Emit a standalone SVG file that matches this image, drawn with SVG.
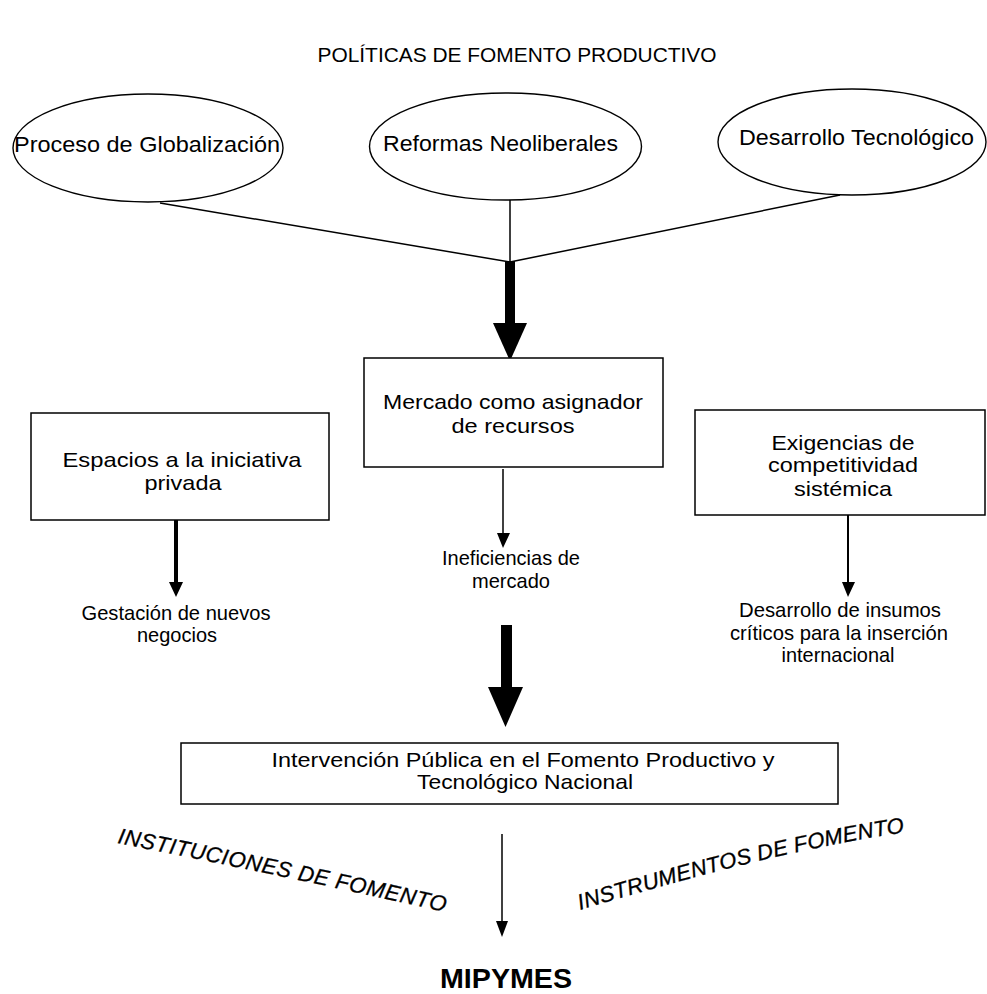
<svg xmlns="http://www.w3.org/2000/svg" xmlns:xlink="http://www.w3.org/1999/xlink" width="987" height="994" viewBox="0 0 987 994">
<style>
  text { font-family: "Liberation Sans", Arial, sans-serif; fill: #000; }
  .t22 { font-size: 22px; }
  .t21 { font-size: 21px; }
  .t20 { font-size: 20px; }
  .curve { font-size: 22px; font-style: italic; stroke: #000; stroke-width: 0.3; }
  .box { fill: #fff; stroke: #000; stroke-width: 1.5; }
  .ell { fill: #fff; stroke: #000; stroke-width: 1.4; }
  .ln { stroke: #000; stroke-width: 1.5; fill: none; }
  .head { fill: #000; stroke: none; }
</style>
<defs>
  <path id="curveL" d="M117,843 Q280,875 445,912"/>
  <path id="curveR" d="M580,910 Q775,851 907,832"/>
</defs>
<rect width="987" height="994" fill="#fff"/>

<g id="title">
  <text class="t20" x="517" y="62" text-anchor="middle" textLength="399" lengthAdjust="spacingAndGlyphs">POLÍTICAS DE FOMENTO PRODUCTIVO</text>
</g>

<g id="connectors">
  <line class="ln" x1="160" y1="203" x2="510" y2="262"/>
  <line class="ln" x1="510" y1="200" x2="510" y2="262"/>
  <line class="ln" x1="840" y1="195" x2="510" y2="262"/>
  <rect x="505" y="261" width="10" height="63" fill="#000"/>
  <polygon class="head" points="493,323 527,323 510,361"/>
  <line class="ln" x1="503" y1="469" x2="503" y2="534"/>
  <polygon class="head" points="497,533 510,533 503,548"/>
  <line x1="176" y1="520" x2="176" y2="583" stroke="#000" stroke-width="4"/>
  <polygon class="head" points="169,582 183,582 176,597"/>
  <line x1="848" y1="515" x2="848" y2="583" stroke="#000" stroke-width="2"/>
  <polygon class="head" points="842,582 855,582 848,597"/>
  <rect x="501" y="625" width="11" height="63" fill="#000"/>
  <polygon class="head" points="488,687 523,687 505.5,727"/>
  <line class="ln" x1="502" y1="834" x2="502" y2="922"/>
  <polygon class="head" points="496,921 508,921 502,937"/>
</g>

<g id="globalizacion">
  <ellipse class="ell" cx="148" cy="148" rx="135" ry="54"/>
  <text class="t22" x="147" y="152" text-anchor="middle" textLength="266" lengthAdjust="spacingAndGlyphs">Proceso de Globalización</text>
</g>
<g id="reformas">
  <ellipse class="ell" cx="505.5" cy="146.5" rx="136" ry="53.5"/>
  <text class="t22" x="500.5" y="151" text-anchor="middle" textLength="235" lengthAdjust="spacingAndGlyphs">Reformas Neoliberales</text>
</g>
<g id="desarrollo-tec">
  <ellipse class="ell" cx="852" cy="142" rx="134" ry="53"/>
  <text class="t22" x="856.5" y="145" text-anchor="middle" textLength="235" lengthAdjust="spacingAndGlyphs">Desarrollo Tecnológico</text>
</g>

<g id="mercado">
  <rect class="box" x="364" y="358" width="299" height="109"/>
  <text class="t21" x="513" y="409" text-anchor="middle" textLength="260" lengthAdjust="spacingAndGlyphs">Mercado como asignador</text>
  <text class="t21" x="513" y="433" text-anchor="middle" textLength="123" lengthAdjust="spacingAndGlyphs">de recursos</text>
</g>
<g id="espacios">
  <rect class="box" x="31" y="413" width="298" height="107"/>
  <text class="t21" x="182" y="467" text-anchor="middle" textLength="239" lengthAdjust="spacingAndGlyphs">Espacios a la iniciativa</text>
  <text class="t21" x="183" y="490" text-anchor="middle" textLength="77" lengthAdjust="spacingAndGlyphs">privada</text>
</g>
<g id="exigencias">
  <rect class="box" x="695" y="410" width="290" height="105"/>
  <text class="t21" x="843" y="450" text-anchor="middle" textLength="143" lengthAdjust="spacingAndGlyphs">Exigencias de</text>
  <text class="t21" x="843" y="472" text-anchor="middle" textLength="150" lengthAdjust="spacingAndGlyphs">competitividad</text>
  <text class="t21" x="843" y="496" text-anchor="middle" textLength="98" lengthAdjust="spacingAndGlyphs">sistémica</text>
</g>

<g id="gestacion">
  <text class="t21" x="176" y="620" text-anchor="middle" textLength="189" lengthAdjust="spacingAndGlyphs">Gestación de nuevos</text>
  <text class="t21" x="177" y="642" text-anchor="middle" textLength="80" lengthAdjust="spacingAndGlyphs">negocios</text>
</g>
<g id="ineficiencias">
  <text class="t21" x="511" y="565" text-anchor="middle" textLength="138" lengthAdjust="spacingAndGlyphs">Ineficiencias de</text>
  <text class="t21" x="511" y="588" text-anchor="middle" textLength="78" lengthAdjust="spacingAndGlyphs">mercado</text>
</g>
<g id="insumos">
  <text class="t21" x="840" y="617" text-anchor="middle" textLength="202" lengthAdjust="spacingAndGlyphs">Desarrollo de insumos</text>
  <text class="t21" x="839" y="640" text-anchor="middle" textLength="218" lengthAdjust="spacingAndGlyphs">críticos para la inserción</text>
  <text class="t21" x="838" y="662" text-anchor="middle" textLength="113" lengthAdjust="spacingAndGlyphs">internacional</text>
</g>

<g id="intervencion">
  <rect class="box" x="181" y="743" width="657" height="61"/>
  <text class="t21" x="523" y="767" text-anchor="middle" textLength="503" lengthAdjust="spacingAndGlyphs">Intervención Pública en el Fomento Productivo y</text>
  <text class="t21" x="525" y="789" text-anchor="middle" textLength="216" lengthAdjust="spacingAndGlyphs">Tecnológico Nacional</text>
</g>

<g id="instituciones">
  <text class="curve"><textPath xlink:href="#curveL" href="#curveL" textLength="335">INSTITUCIONES DE FOMENTO</textPath></text>
</g>
<g id="instrumentos">
  <text class="curve"><textPath xlink:href="#curveR" href="#curveR" textLength="334">INSTRUMENTOS DE FOMENTO</textPath></text>
</g>

<g id="mipymes">
  <text x="506" y="988" text-anchor="middle" font-size="28" font-weight="bold" textLength="132" lengthAdjust="spacingAndGlyphs">MIPYMES</text>
</g>
</svg>
